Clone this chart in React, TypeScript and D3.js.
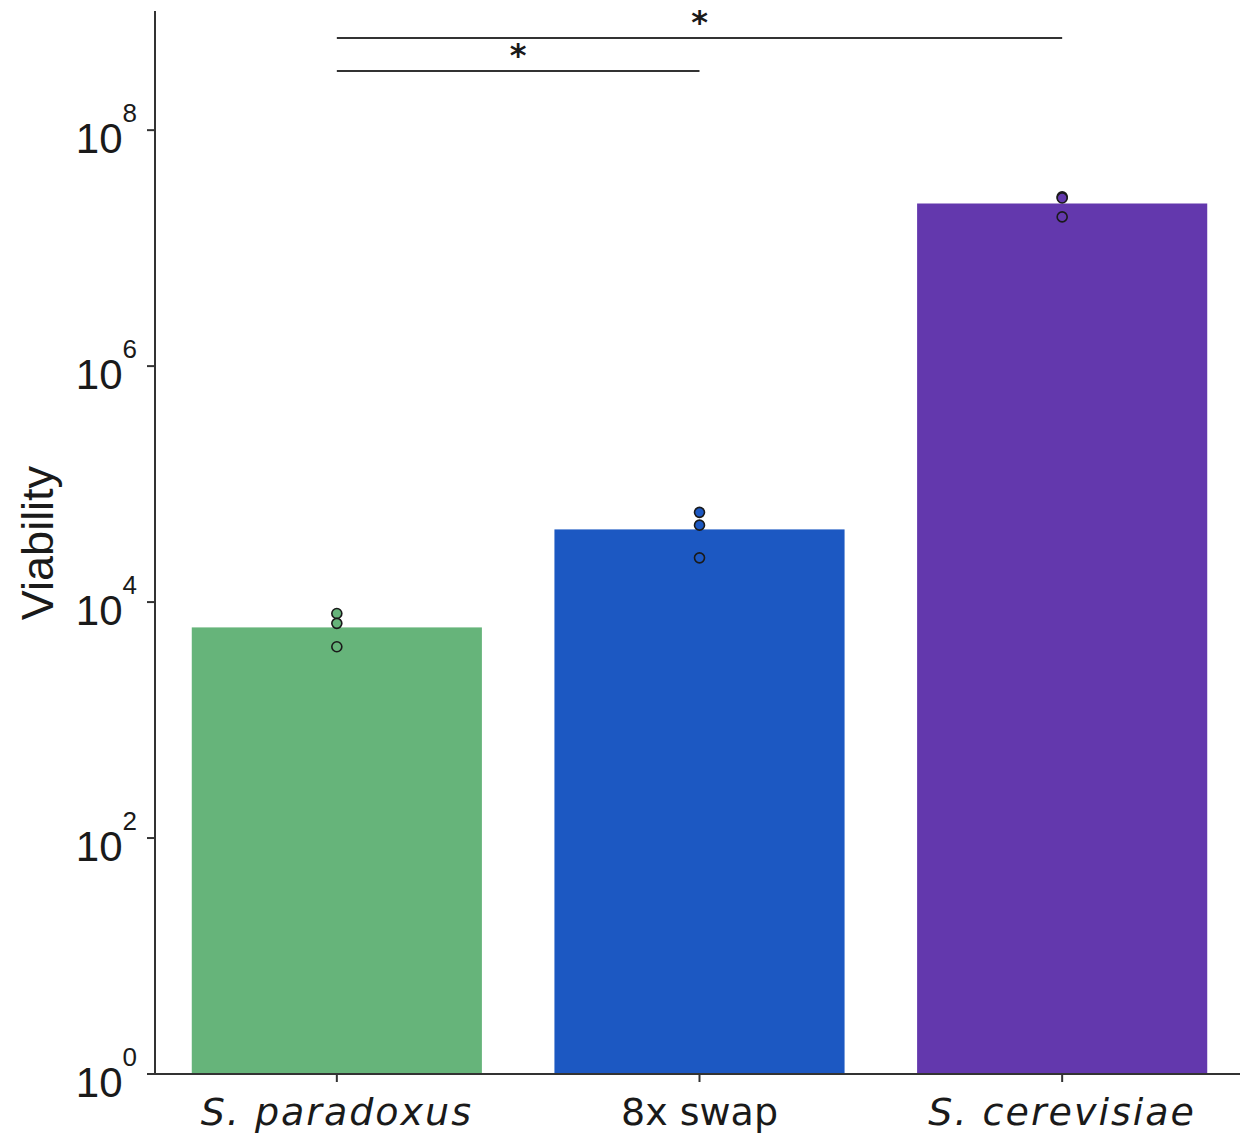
import React, { useEffect, useRef } from "react";
import * as d3 from "d3";

// groups and their bar heights (mean viability)
const groups = ["S. paradoxus", "8x swap", "S. cerevisiae"];
const italicGroup = [true, false, true];
const barValues = [6100, 41300, 2.39e7];
const barColors = ["#66b47a", "#1c58c2", "#6338ad"];

// replicate points per group
const replicates = [
  [8000, 6600, 4180],
  [57600, 44900, 23700],
  [2.72e7, 2.66e7, 1.84e7],
];

// y tick exponents
const tickExponents = [0, 2, 4, 6, 8];

// significance brackets: [from group, to group, label]
const brackets: [number, number, string][] = [
  [0, 2, "*"],
  [0, 1, "*"],
];

const App = () => {
  const ref = useRef<SVGSVGElement>(null);

  useEffect(() => {
    const width = 1240;
    const height = 1138;
    const left = 155;
    const bottom = 1074;
    const top = 11;

    const svg = d3.select(ref.current)
      .attr("width", width)
      .attr("height", height);

    svg.selectAll("*").remove();

    const x = d3.scaleBand()
      .domain(groups)
      .range([155.5, 1243.5])
      .paddingInner(0.2)
      .paddingOuter(0.1);

    const y = d3.scaleLog()
      .domain([1, Math.pow(10, 9.01)])
      .range([bottom, top]);

    // bars
    svg.append("g")
      .selectAll("rect")
      .data(barValues)
      .enter()
      .append("rect")
      .attr("x", (d, i) => x(groups[i]) as number)
      .attr("y", d => y(d))
      .attr("width", x.bandwidth())
      .attr("height", d => bottom - y(d))
      .attr("fill", (d, i) => barColors[i]);

    // replicate points
    replicates.forEach((pts, i) => {
      svg.append("g")
        .selectAll("circle")
        .data(pts)
        .enter()
        .append("circle")
        .attr("cx", (x(groups[i]) as number) + x.bandwidth() / 2)
        .attr("cy", d => y(d))
        .attr("r", 5)
        .attr("fill", barColors[i])
        .attr("stroke", "#1a1a1a")
        .attr("stroke-width", 1.6);
    });

    const axisColor = "#333333";

    // y axis
    svg.append("line")
      .attr("x1", left).attr("x2", left)
      .attr("y1", top).attr("y2", bottom)
      .attr("stroke", axisColor).attr("stroke-width", 2);

    const yt = svg.append("g");
    tickExponents.forEach(e => {
      const ty = y(Math.pow(10, e));
      yt.append("line")
        .attr("x1", left - 8).attr("x2", left)
        .attr("y1", ty).attr("y2", ty)
        .attr("stroke", axisColor).attr("stroke-width", 2);
      const t = yt.append("text")
        .attr("x", 137)
        .attr("y", ty + 23)
        .attr("text-anchor", "end")
        .style("font-family", "'Liberation Sans', Arial, sans-serif")
        .style("font-size", "42px")
        .attr("fill", "#1a1a1a");
      t.append("tspan").text("10");
      t.append("tspan")
        .attr("dy", -31)
        .style("font-size", "26px")
        .text(String(e));
    });

    // y label
    svg.append("text")
      .attr("transform", "translate(53, 543) rotate(-90)")
      .attr("text-anchor", "middle")
      .style("font-family", "'Liberation Sans', Arial, sans-serif")
      .style("font-size", "45px")
      .attr("fill", "#1a1a1a")
      .text("Viability");

    // x axis
    svg.append("line")
      .attr("x1", left).attr("x2", width)
      .attr("y1", bottom).attr("y2", bottom)
      .attr("stroke", axisColor).attr("stroke-width", 2);

    groups.forEach((g, i) => {
      const cx = (x(g) as number) + x.bandwidth() / 2;
      svg.append("line")
        .attr("x1", cx).attr("x2", cx)
        .attr("y1", bottom).attr("y2", bottom + 8)
        .attr("stroke", axisColor).attr("stroke-width", 2);
      svg.append("text")
        .attr("x", cx)
        .attr("y", 1125)
        .attr("text-anchor", "middle")
        .style("font-family", "'DejaVu Sans', sans-serif")
        .style("font-size", "38px")
        .style("font-style", italicGroup[i] ? "italic" : "normal")
        .style("letter-spacing", italicGroup[i] ? "2px" : "0px")
        .attr("fill", "#1a1a1a")
        .text(g);
    });

    // significance brackets
    const bracketY = [38, 71];
    brackets.forEach(([a, b, label], k) => {
      const x1 = (x(groups[a]) as number) + x.bandwidth() / 2;
      const x2 = (x(groups[b]) as number) + x.bandwidth() / 2;
      svg.append("line")
        .attr("x1", x1).attr("x2", x2)
        .attr("y1", bracketY[k]).attr("y2", bracketY[k])
        .attr("stroke", axisColor).attr("stroke-width", 2);
      svg.append("text")
        .attr("x", (x1 + x2) / 2)
        .attr("y", bracketY[k] - 5)
        .attr("text-anchor", "middle")
        .style("font-family", "'DejaVu Sans', sans-serif")
        .style("font-size", "32px")
        .style("font-weight", "bold")
        .attr("fill", "#1a1a1a")
        .text(label);
    });
  }, []);

  return (
    <div style={{ position: "absolute", left: 0, top: 0 }}>
      <svg ref={ref} style={{ display: "block" }}></svg>
    </div>
  );
};

export default App;
